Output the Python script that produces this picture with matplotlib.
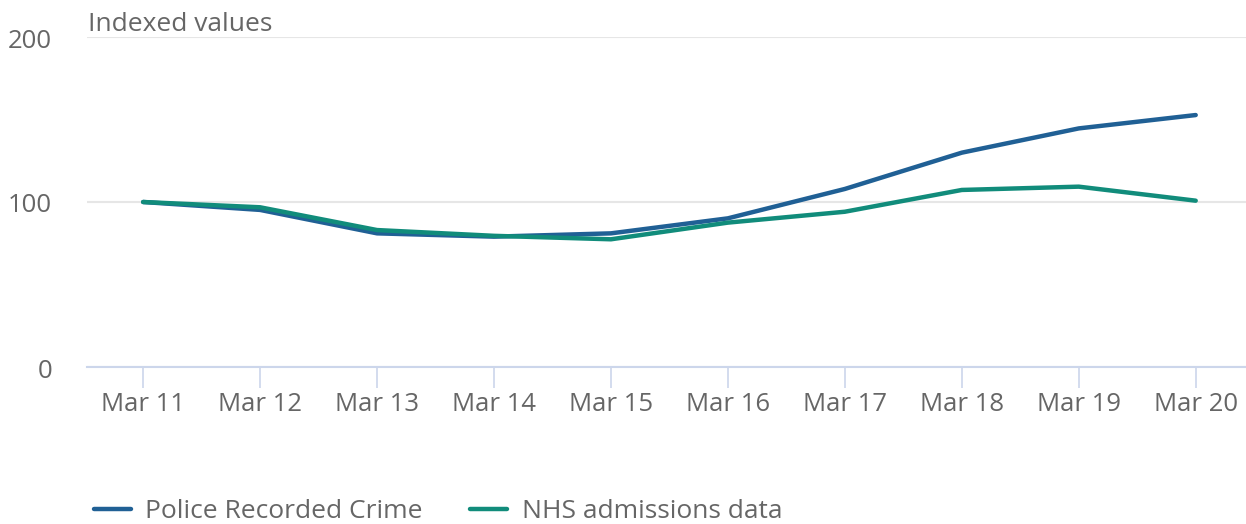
import matplotlib.pyplot as plt
import matplotlib.transforms as mtrans

days = ['Mar 11', 'Mar 12', 'Mar 13', 'Mar 14', 'Mar 15',
        'Mar 16', 'Mar 17', 'Mar 18', 'Mar 19', 'Mar 20']
police = [100, 95.2, 81, 79, 81, 90.1, 107.9, 129.9, 144.6, 152.7]
nhs = [100, 96.8, 83, 79.5, 77.4, 87.5, 94.1, 107.3, 109.3, 100.8]
yticks = [0, 100, 200]

plt.rcParams['font.family'] = ['Open Sans', 'DejaVu Sans']
grey = '#666666'

fig = plt.figure(figsize=(12.46, 5.24), dpi=100)
ax = fig.add_axes([87/1246, 1 - 367/524, 1 - 87/1246, (367 - 37)/524])

x = range(len(days))
ax.plot(x, police, color='#206095', lw=3.2, solid_capstyle='round',
        solid_joinstyle='round', label='Police Recorded Crime', zorder=3)
ax.plot(x, nhs, color='#118c7b', lw=3.2, solid_capstyle='round',
        solid_joinstyle='round', label='NHS admissions data', zorder=3)

ax.set_xlim(-0.48, 9.43)
ax.set_ylim(0, 200)
ax.set_xticks(list(x))
ax.set_xticklabels(days)
ax.set_yticks(yticks)

for s in ['top', 'right', 'left']:
    ax.spines[s].set_visible(False)
ax.spines['bottom'].set_color('#ccd6eb')
ax.spines['bottom'].set_linewidth(1.5)
ax.spines['bottom'].set_zorder(2)

ax.grid(axis='y', color='#e6e6e6', lw=1.5, zorder=1)
ax.set_axisbelow(True)
ax.tick_params(axis='x', length=15, width=1.2, color='#ccd6eb',
               labelsize=18.5, labelcolor=grey, pad=3)
ax.tick_params(axis='y', length=0, labelsize=18.5, labelcolor=grey, pad=25)
shift = mtrans.ScaledTranslation(0, -4/100, fig.dpi_scale_trans)
for lab in ax.get_yticklabels():
    lab.set_verticalalignment('center')
    lab.set_transform(lab.get_transform() + shift)

fig.text(88/1246, 1 - 31/524, 'Indexed values', fontsize=19, color=grey,
         ha='left', va='baseline')

leg = fig.legend(loc='center left', bbox_to_anchor=(94/1246, 1 - 512/524),
                 ncol=2, frameon=False, fontsize=19, handlelength=1.4,
                 handletextpad=0.55, columnspacing=1.8, borderaxespad=0,
                 borderpad=0)
for t in leg.get_texts():
    t.set_color(grey)
for h in leg.get_lines():
    h.set_linewidth(3.2)

fig.savefig('out.png', dpi=100)
